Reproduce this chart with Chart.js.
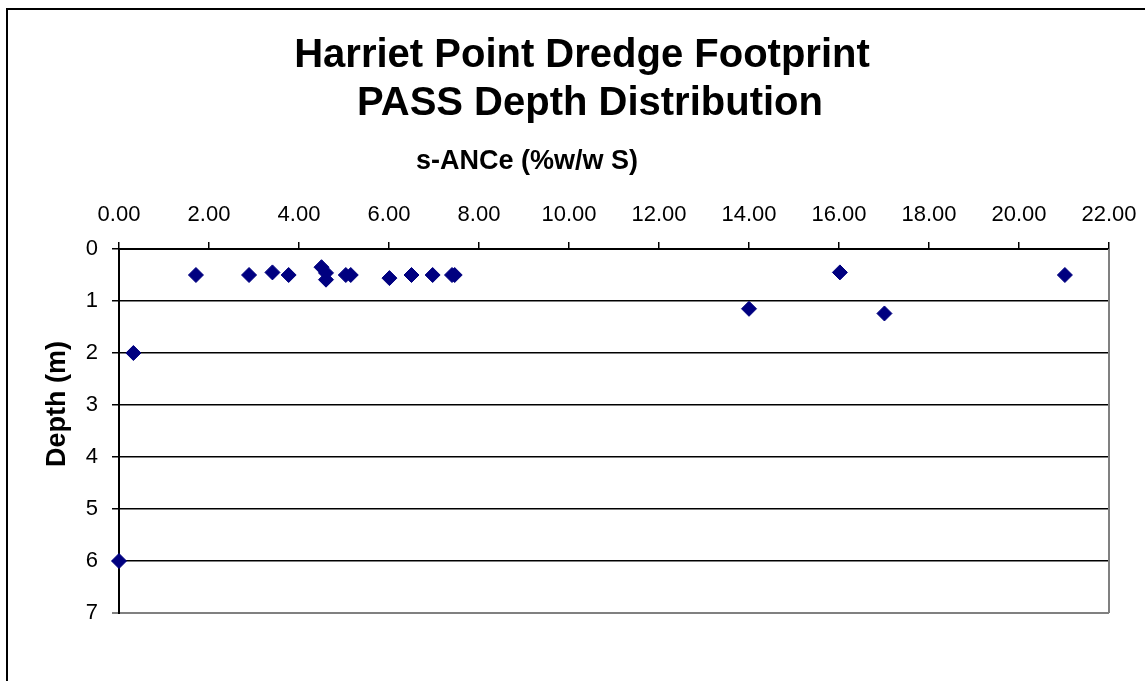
<!DOCTYPE html>
<html>
<head>
<meta charset="utf-8">
<script src="https://cdn.jsdelivr.net/npm/chart.js@4"></script>
<style>
  html, body { margin: 0; padding: 0; background: #fff; }
  #wrap { width: 1145px; height: 681px; position: relative; }
</style>
</head>
<body>
<div id="wrap"><canvas id="chart"></canvas></div>
<script>
// ── Data ───────────────────────────────────────────────────────────
const sANCe = [1.71, 2.89, 3.41, 3.77, 4.50, 4.60, 4.60, 5.04, 5.15, 6.01, 6.50, 6.97, 7.40, 7.46,
               14.00, 16.02, 17.01, 21.02, 0.32, 0.00]
const depth = [0.5, 0.5, 0.45, 0.5, 0.35, 0.46, 0.59, 0.5, 0.5, 0.56, 0.5, 0.5, 0.5, 0.5,
               1.15, 0.45, 1.24, 0.5, 2.0, 6.0]

const titleLines = ["Harriet Point Dredge Footprint", "PASS Depth Distribution"]
const xTitle = "s-ANCe (%w/w S)"
const yTitle = "Depth (m)"

const points = sANCe.map((x, i) => ({ x, y: depth[i] }))

// ── Frame, titles and plot border drawn around the library's chart area
const excelFrame = {
  id: "excelFrame",
  beforeDraw(chart) {
    const { ctx } = chart
    ctx.save()
    ctx.fillStyle = "#fff"
    ctx.fillRect(0, 0, chart.width, chart.height)
    ctx.strokeStyle = "#000"
    ctx.lineWidth = 2
    ctx.strokeRect(7, 9, chart.width + 40, chart.height + 40)
    ctx.restore()
  },
  afterDraw(chart) {
    const { ctx, chartArea: a } = chart
    ctx.save()
    ctx.strokeStyle = "#808080"
    ctx.lineWidth = 2
    ctx.beginPath()
    ctx.moveTo(a.right, a.top)
    ctx.lineTo(a.right, a.bottom)
    ctx.stroke()

    ctx.fillStyle = "#000"
    ctx.textAlign = "center"
    ctx.textBaseline = "middle"
    ctx.font = "bold 40px 'Liberation Sans', Arial, sans-serif"
    ctx.fillText(titleLines[0], 582, 56)
    ctx.fillText(titleLines[1], 590, 104)

    ctx.font = "bold 27px 'Liberation Sans', Arial, sans-serif"
    ctx.fillText(xTitle, 527, 162)

    ctx.translate(58, 404)
    ctx.rotate(-Math.PI / 2)
    ctx.fillText(yTitle, 0, 0)
    ctx.restore()
  }
}

new Chart(document.getElementById("chart"), {
  type: "scatter",
  data: {
    datasets: [{
      label: "PASS",
      data: points,
      pointStyle: "rectRot",
      pointRadius: 7.5,
      pointHoverRadius: 7.5,
      backgroundColor: "#000080",
      borderColor: "#000080",
      borderWidth: 1,
      clip: false,
    }]
  },
  options: {
    responsive: true,
    maintainAspectRatio: false,
    animation: false,
    layout: { padding: { top: 189, right: 36, bottom: 68, left: 0 } },
    plugins: {
      legend: { display: false },
      title: { display: false },
      tooltip: { enabled: false }
    },
    scales: {
      x: {
        type: "linear",
        position: "top",
        min: 0,
        max: 22,
        afterFit: s => { s.height = 60; s.paddingLeft = 0; s.paddingRight = 0 },
        ticks: {
          stepSize: 2,
          callback: v => Number(v).toFixed(2),
          color: "#000",
          padding: 14,
          maxRotation: 0,
          font: { family: "'Liberation Sans', Arial, sans-serif", size: 22 }
        },
        grid: { drawOnChartArea: false, color: "#000", lineWidth: 1.5, tickLength: 7 },
        border: { color: "#000", width: 2 }
      },
      y: {
        type: "linear",
        reverse: true,
        min: 0,
        max: 7,
        afterFit: s => { s.width = 119; s.paddingTop = 0; s.paddingBottom = 0 },
        ticks: {
          stepSize: 1,
          color: "#000",
          padding: 14,
          font: { family: "'Liberation Sans', Arial, sans-serif", size: 22 }
        },
        grid: {
          color: ctx => ctx.tick && ctx.tick.value === 7 ? "#808080" : "#000",
          lineWidth: ctx => ctx.tick && ctx.tick.value === 7 ? 2 : 1.5,
          tickLength: 7
        },
        border: { color: "#000", width: 2 }
      }
    }
  },
  plugins: [excelFrame]
})
</script>
</body>
</html>
